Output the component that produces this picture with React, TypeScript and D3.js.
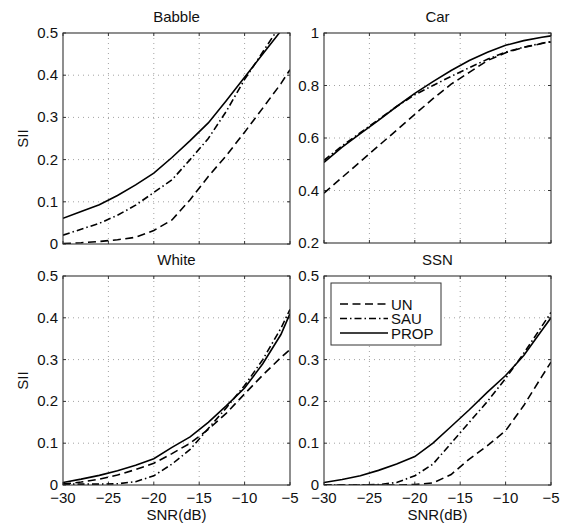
import React from "react";
import * as d3 from "d3";

const snr = [-30, -28, -26, -24, -22, -20, -18, -16, -14, -12, -10, -8, -6, -5];

const babbleUN = [0.001, 0.003, 0.006, 0.01, 0.016, 0.032, 0.057, 0.105, 0.16, 0.21, 0.265, 0.322, 0.38, 0.413];
const babbleSAU = [0.021, 0.035, 0.049, 0.068, 0.092, 0.122, 0.152, 0.2, 0.25, 0.315, 0.39, 0.455, 0.52, 0.55];
const babblePROP = [0.061, 0.077, 0.093, 0.115, 0.14, 0.168, 0.205, 0.245, 0.287, 0.34, 0.395, 0.45, 0.505, 0.535];

const carUN = [0.39, 0.45, 0.51, 0.57, 0.63, 0.69, 0.75, 0.805, 0.85, 0.895, 0.925, 0.945, 0.96, 0.966];
const carSAU = [0.515, 0.57, 0.62, 0.67, 0.72, 0.765, 0.8, 0.835, 0.868, 0.9, 0.927, 0.946, 0.961, 0.967];
const carPROP = [0.507, 0.565, 0.617, 0.667, 0.72, 0.77, 0.815, 0.857, 0.895, 0.927, 0.953, 0.971, 0.984, 0.989];

const whiteUN = [0.002, 0.007, 0.014, 0.024, 0.037, 0.052, 0.075, 0.1, 0.133, 0.172, 0.218, 0.263, 0.305, 0.324];
const whiteSAU = [0.002, 0.002, 0.002, 0.003, 0.008, 0.022, 0.05, 0.085, 0.135, 0.185, 0.238, 0.3, 0.375, 0.42];
const whitePROP = [0.006, 0.014, 0.023, 0.034, 0.047, 0.063, 0.09, 0.115, 0.15, 0.19, 0.232, 0.29, 0.36, 0.41];

const ssnUN = [0, 0, 0, 0, 0, 0.001, 0.005, 0.025, 0.062, 0.094, 0.13, 0.19, 0.26, 0.294];
const ssnSAU = [0, 0, 0, 0.001, 0.006, 0.022, 0.05, 0.1, 0.15, 0.2, 0.255, 0.315, 0.38, 0.413];
const ssnPROP = [0.006, 0.013, 0.022, 0.035, 0.05, 0.068, 0.1, 0.14, 0.18, 0.222, 0.262, 0.31, 0.37, 0.4];

const xTicks = [-30, -25, -20, -15, -10, -5];
const yTicksSII = [0, 0.1, 0.2, 0.3, 0.4, 0.5];
const yTicksCar = [0.2, 0.4, 0.6, 0.8, 1];

const seriesNames = ["UN", "SAU", "PROP"];
const dashes: Record<string, string | undefined> = {
  UN: "8,4.5",
  SAU: "7,3,1.5,3",
  PROP: undefined,
};

const FONT = "'Liberation Sans', Arial, Helvetica, sans-serif";

type PanelProps = {
  id: string;
  x0: number;
  y0: number;
  w: number;
  h: number;
  title: string;
  yDomain: [number, number];
  yTicks: number[];
  showX: boolean;
  showYLabel: boolean;
  data: number[][];
  legend?: boolean;
};

function Panel(p: PanelProps) {
  const x = d3.scaleLinear().domain([-30, -5]).range([p.x0, p.x0 + p.w]);
  const y = d3.scaleLinear().domain(p.yDomain).range([p.y0 + p.h, p.y0]);
  const fmt = d3.format("");
  const line = d3
    .line<number>()
    .x((_, i) => x(snr[i]))
    .y((d) => y(d));
  const tl = 3;
  return (
    <g>
      <defs>
        <clipPath id={`clip-${p.id}`}>
          <rect x={p.x0} y={p.y0} width={p.w} height={p.h} />
        </clipPath>
      </defs>
      <rect x={p.x0} y={p.y0} width={p.w} height={p.h} fill="white" />
      {/* grid */}
      {xTicks.slice(1, -1).map((t) => (
        <line key={`gx${t}`} x1={x(t)} x2={x(t)} y1={p.y0} y2={p.y0 + p.h} stroke="#8a8a8a" strokeWidth={0.8} strokeDasharray="1,4" />
      ))}
      {p.yTicks.slice(1, -1).map((t) => (
        <line key={`gy${t}`} x1={p.x0} x2={p.x0 + p.w} y1={y(t)} y2={y(t)} stroke="#8a8a8a" strokeWidth={0.8} strokeDasharray="1,4" />
      ))}
      {/* ticks inside */}
      {xTicks.map((t) => (
        <g key={`tx${t}`}>
          <line x1={x(t)} x2={x(t)} y1={p.y0 + p.h} y2={p.y0 + p.h - tl} stroke="#333" />
          <line x1={x(t)} x2={x(t)} y1={p.y0} y2={p.y0 + tl} stroke="#333" />
        </g>
      ))}
      {p.yTicks.map((t) => (
        <g key={`ty${t}`}>
          <line x1={p.x0} x2={p.x0 + tl} y1={y(t)} y2={y(t)} stroke="#333" />
          <line x1={p.x0 + p.w} x2={p.x0 + p.w - tl} y1={y(t)} y2={y(t)} stroke="#333" />
          <text x={p.x0 - 5} y={y(t) + 5} textAnchor="end" fontSize={15} fontFamily={FONT} fill="#111">
            {fmt(t)}
          </text>
        </g>
      ))}
      {p.showX &&
        xTicks.map((t) => (
          <text key={`xl${t}`} x={x(t)} y={p.y0 + p.h + 17.5} textAnchor="middle" fontSize={15} fontFamily={FONT} fill="#111">
            {fmt(t)}
          </text>
        ))}
      {/* series */}
      <g clipPath={`url(#clip-${p.id})`}>
        {p.data.map((vals, k) => (
          <path
            key={seriesNames[k]}
            d={line(vals) || ""}
            fill="none"
            stroke="#000"
            strokeWidth={1.6}
            strokeDasharray={dashes[seriesNames[k]]}
          />
        ))}
      </g>
      <rect x={p.x0} y={p.y0} width={p.w} height={p.h} fill="none" stroke="#333" strokeWidth={1.1} />
      <text x={p.x0 + p.w / 2} y={p.y0 - 11.5} textAnchor="middle" fontSize={15} fontFamily={FONT} fill="#111">
        {p.title}
      </text>
      {p.showYLabel && (
        <text
          transform={`translate(${p.x0 - 35},${p.y0 + p.h / 2}) rotate(-90)`}
          textAnchor="middle"
          fontSize={15}
          fontFamily={FONT}
          fill="#111"
        >
          SII
        </text>
      )}
      {p.showX && (
        <text x={p.x0 + p.w / 2} y={p.y0 + p.h + 35} textAnchor="middle" fontSize={15} fontFamily={FONT} fill="#111">
          SNR(dB)
        </text>
      )}
      {p.legend && (
        <g>
          <rect x={p.x0 + 7} y={p.y0 + 7} width={110} height={62} fill="white" stroke="#333" strokeWidth={1} />
          {seriesNames.map((n, k) => {
            const ly = p.y0 + 28 + k * 14.5;
            return (
              <g key={`lg${n}`}>
                <line x1={p.x0 + 16} x2={p.x0 + 64} y1={ly} y2={ly} stroke="#000" strokeWidth={1.6} strokeDasharray={dashes[n]} />
                <text x={p.x0 + 67} y={ly + 5.5} fontSize={15} fontFamily={FONT} fill="#111">
                  {n}
                </text>
              </g>
            );
          })}
        </g>
      )}
    </g>
  );
}

export default function App() {
  return (
    <svg width={564} height={525} style={{ position: "absolute", left: 0, top: 0, background: "white" }}>
      <rect width={564} height={525} fill="white" />
      <Panel id="babble" x0={63} y0={33} w={227} h={211} title="Babble" yDomain={[0, 0.5]} yTicks={yTicksSII} showX={false} showYLabel={true} data={[babbleUN, babbleSAU, babblePROP]} />
      <Panel id="car" x0={324} y0={33} w={227} h={210} title="Car" yDomain={[0.2, 1]} yTicks={yTicksCar} showX={false} showYLabel={false} data={[carUN, carSAU, carPROP]} />
      <Panel id="white" x0={63} y0={276} w={227} h={209} title="White" yDomain={[0, 0.5]} yTicks={yTicksSII} showX={true} showYLabel={true} data={[whiteUN, whiteSAU, whitePROP]} />
      <Panel id="ssn" x0={324} y0={276} w={227} h={209} title="SSN" yDomain={[0, 0.5]} yTicks={yTicksSII} showX={true} showYLabel={false} data={[ssnUN, ssnSAU, ssnPROP]} legend={true} />
    </svg>
  );
}
